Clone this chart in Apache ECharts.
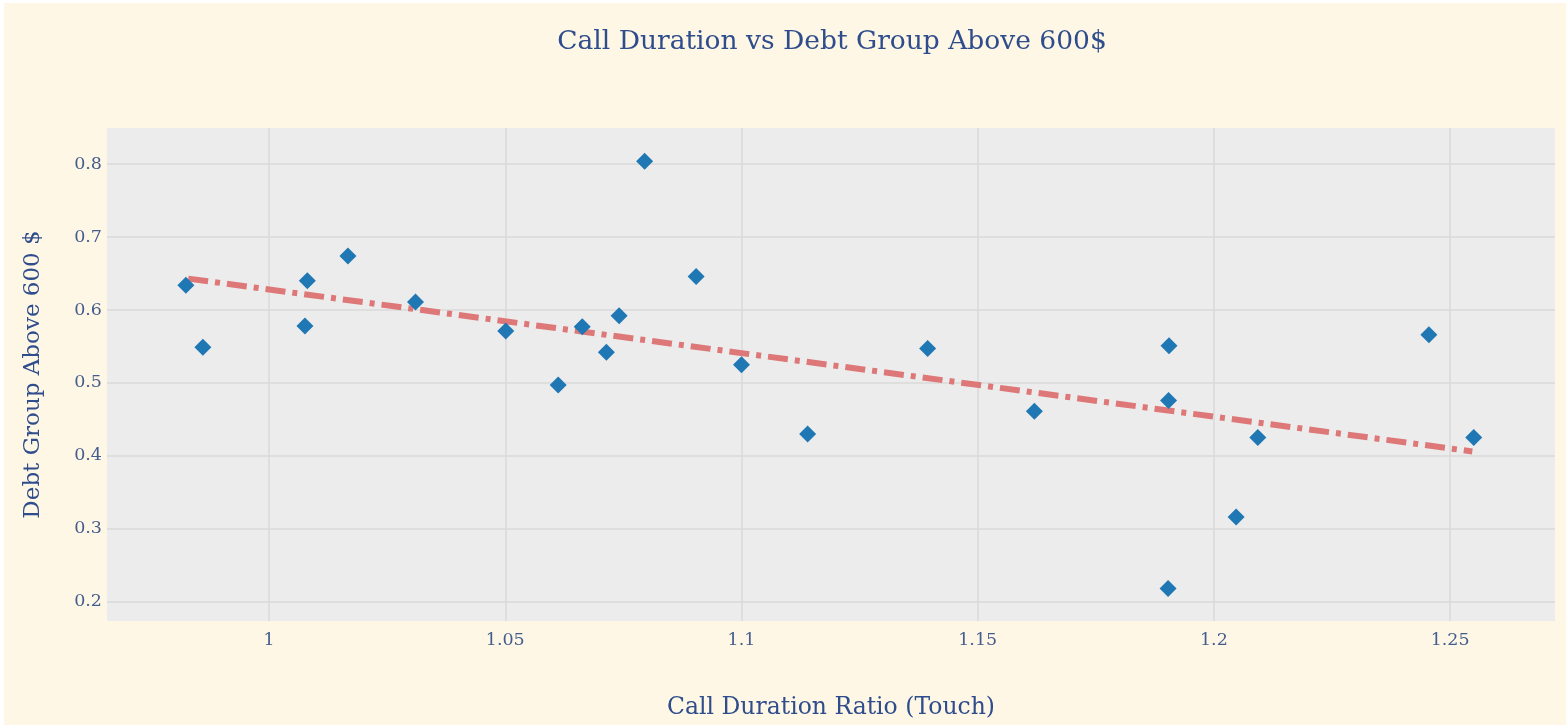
<!DOCTYPE html>
<html>
<head>
<meta charset="utf-8">
<script src="https://cdn.jsdelivr.net/npm/echarts@6/dist/echarts.min.js"></script>
<style>
html,body{margin:0;padding:0;background:#ffffff;}
#chart{position:absolute;left:4px;top:3px;width:1562px;height:722px;}
</style>
</head>
<body>
<div id="chart"></div>
<script>
// Data
const callDurationRatio = [0.9824, 0.9860, 1.0081, 1.0076, 1.0167, 1.0310, 1.0501, 1.0612, 1.0663, 1.0714, 1.0741, 1.0795, 1.0904, 1.1000, 1.1140, 1.1394, 1.1620, 1.1905, 1.1904, 1.1903, 1.2047, 1.2093, 1.2455, 1.2550];
const debtAbove600 = [0.634, 0.549, 0.640, 0.578, 0.674, 0.611, 0.571, 0.497, 0.577, 0.542, 0.592, 0.804, 0.646, 0.525, 0.430, 0.547, 0.461, 0.551, 0.476, 0.218, 0.316, 0.425, 0.566, 0.425];
const trendX = [0.9829, 1.2547];
const trendY = [0.643, 0.406];

const titleText = 'Call Duration vs Debt Group Above 600$';
const xAxisTitle = 'Call Duration Ratio (Touch)';
const yAxisTitle = 'Debt Group Above 600 $';

const points = callDurationRatio.map((x, i) => [x, debtAbove600[i]]);
const trend = trendX.map((x, i) => [x, trendY[i]]);

const FONT = "'DejaVu Serif', 'Liberation Serif', serif";
const textColor = '#2f4d8c';
const tickColor = '#445d8e';

const chart = echarts.init(document.getElementById('chart'), null, {renderer: 'canvas'});
chart.setOption({
  backgroundColor: '#fef7e5',
  animation: false,
  title: {
    text: titleText,
    left: 823,
    top: 21,
    textAlign: 'center',
    textStyle: {fontFamily: FONT, fontSize: 26.5, fontWeight: 'normal', color: textColor}
  },
  grid: {
    left: 103, right: 11, top: 125, bottom: 96,
    show: true, backgroundColor: '#ececec', borderWidth: 0
  },
  xAxis: {
    type: 'value',
    min: 0.9657, max: 1.2722,
    name: xAxisTitle,
    nameLocation: 'middle',
    nameGap: 75,
    nameTextStyle: {fontFamily: FONT, fontSize: 23.5, color: textColor},
    axisLine: {show: false},
    axisTick: {show: false},
    axisLabel: {fontFamily: FONT, fontSize: 17.5, color: tickColor, margin: 10, showMinLabel: false, showMaxLabel: false},
    splitLine: {show: true, showMinLine: false, showMaxLine: false, lineStyle: {color: '#dadada', width: 1.5}}
  },
  yAxis: {
    type: 'value',
    min: 0.1735, max: 0.8495,
    name: yAxisTitle,
    nameLocation: 'middle',
    nameGap: 62,
    nameTextStyle: {fontFamily: FONT, fontSize: 23, color: textColor},
    axisLine: {show: false},
    axisTick: {show: false},
    axisLabel: {fontFamily: FONT, fontSize: 17.5, color: tickColor, margin: 5, showMinLabel: false, showMaxLabel: false},
    splitLine: {show: true, showMinLine: false, showMaxLine: false, lineStyle: {color: '#dadada', width: 1.5}}
  },
  series: [
    {
      type: 'line',
      data: trend,
      symbol: 'none',
      z: 2,
      lineStyle: {color: '#de7777', width: 6, type: [20, 7, 5, 7], cap: 'butt'}
    },
    {
      type: 'scatter',
      data: points,
      symbol: 'diamond',
      symbolSize: 17,
      z: 3,
      itemStyle: {color: '#1f77b4', opacity: 1}
    }
  ]
});
</script>
</body>
</html>
